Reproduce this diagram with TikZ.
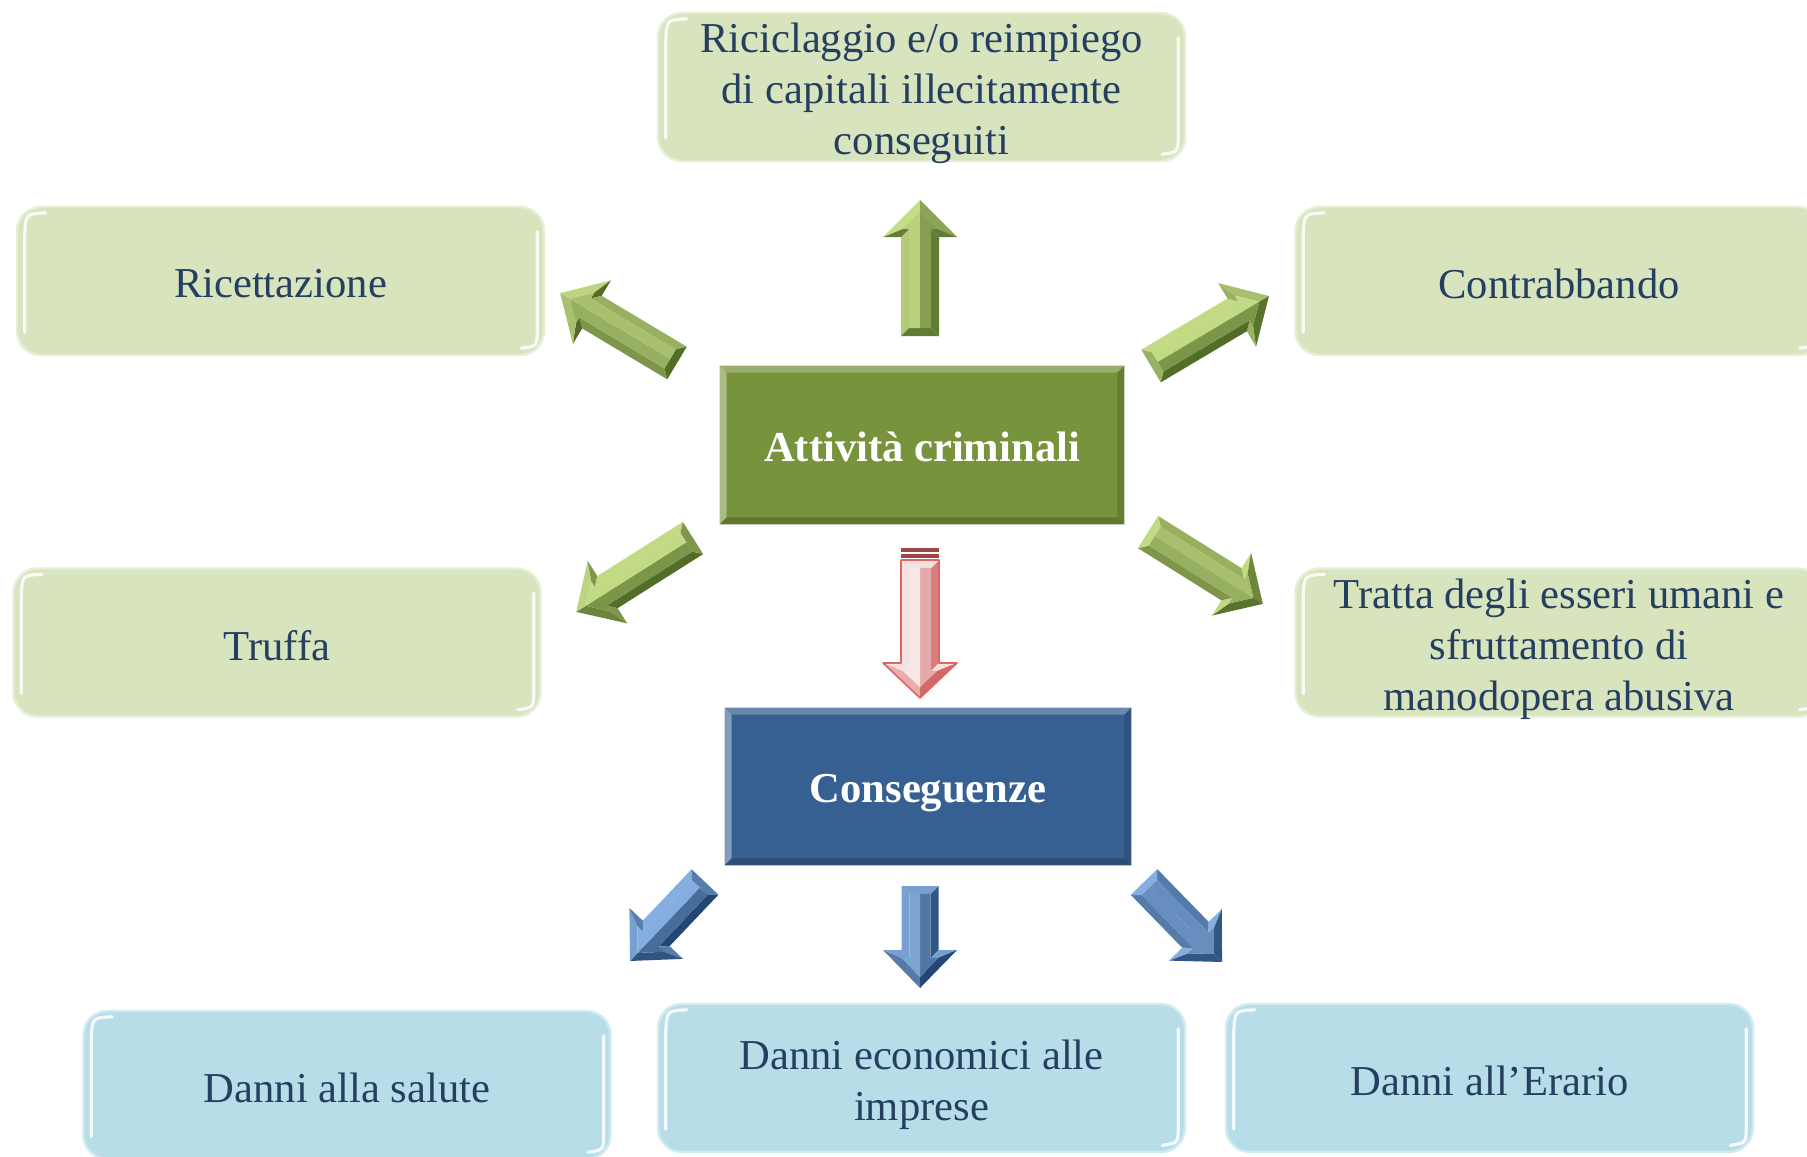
\documentclass[tikz,border=0pt]{standalone}
\usepackage{fontspec}
\setmainfont{Liberation Serif}
\usetikzlibrary{calc}
\definecolor{txt}{HTML}{243F60}
\definecolor{gbox}{HTML}{D7E4BD}
\definecolor{gboxE}{HTML}{E6EFD6}
\definecolor{bbox}{HTML}{B7DEE8}
\definecolor{bboxE}{HTML}{D0EBF2}
\definecolor{actF}{HTML}{77933C}
\definecolor{consF}{HTML}{376092}
\definecolor{gnL}{HTML}{CCE38C}
\definecolor{gnD}{HTML}{4A6520}
\definecolor{blL}{HTML}{8CB6E8}
\definecolor{blD}{HTML}{1E416C}
\definecolor{pkL}{HTML}{FFFFFF}
\definecolor{pkD}{HTML}{D06060}
\definecolor{pkO}{HTML}{E06666}
\definecolor{pkS}{HTML}{A04545}

\tikzset{
 lbox/.style={rectangle, rounded corners=12pt, minimum width=263.5pt, minimum height=74pt,
   text=txt, font=\fontsize{21.3}{25.5}\selectfont, align=center, inner sep=0pt, line width=1.2pt},
 gbx/.style={lbox, fill=gbox, draw=gboxE},
 bbx/.style={lbox, fill=bbox, draw=bboxE},
 cbox/.style={rectangle, text=white, font=\fontsize{21.3}{25.5}\selectfont\bfseries, inner sep=0pt},
 gloss/.style={white, line width=1.6pt, line cap=round, opacity=.85},
 txtone/.style={yshift=-1.5pt},
 txtmulti/.style={yshift=-3.3pt},
}

% glossy highlight of a light box
\newcommand{\gloss}[1]{%
 \draw[gloss] ($(#1.north west)+(30,7)$) .. controls ($(#1.north west)+(10,8)$) .. ($(#1.north west)+(9,28)$) -- ($(#1.south west)+(9,-24)$);
 \draw[gloss] ($(#1.north east)+(-8,26)$) -- ($(#1.south east)+(-8,-28)$) .. controls ($(#1.south east)+(-8,-10)$) .. ($(#1.south east)+(-24,-8)$);
}

% bevelled central box
\newcommand{\bevbox}[2]{%
 \fill[#2!75!white] (#1.north west) -- (#1.north east) -- ($(#1.north east)+(-7,7)$) -- ($(#1.north west)+(7,7)$) -- cycle;
 \fill[#2!62!white] (#1.north west) -- ($(#1.north west)+(7,7)$) -- ($(#1.south west)+(7,-7)$) -- (#1.south west) -- cycle;
 \fill[#2!80!black] (#1.south west) -- ($(#1.south west)+(7,-7)$) -- ($(#1.south east)+(-7,-7)$) -- (#1.south east) -- cycle;
 \fill[#2!86!black] (#1.north east) -- (#1.south east) -- ($(#1.south east)+(-7,-7)$) -- ($(#1.north east)+(-7,7)$) -- cycle;
}

% bevelled block arrow: #1 tail, #2 tip, #3 head length, #4 shaft half width, #5 head half width, #6 scheme, #7 outline
\newcommand{\bevarrow}[7]{%
 \path (#1); \pgfgetlastxy{\bvax}{\bvay}%
 \path (#2); \pgfgetlastxy{\bvbx}{\bvby}%
 \pgfmathsetmacro{\bvrot}{atan2(\bvby-\bvay,\bvbx-\bvax)}%
 \pgfmathsetmacro{\bvL}{veclen(\bvbx-\bvax,\bvby-\bvay)*2}%
 \pgfmathsetmacro{\bvB}{\bvL-#3}%
 \pgfmathsetmacro{\bvd}{0.42*#4}%
 \pgfmathsetmacro{\bvwi}{#4-\bvd}%
 \pgfmathsetmacro{\bvBi}{\bvB+\bvd}%
 \pgfmathsetmacro{\bvlen}{veclen(#5,#3)}%
 \pgfmathsetmacro{\bvPi}{\bvL-\bvd*\bvlen/#5}%
 \pgfmathsetmacro{\bvHi}{(#5*(#3-\bvd)-\bvd*\bvlen)/#3}%
 \pgfmathsetmacro{\bvsl}{atan2(#3,#5)}%
 \pgfmathtruncatemacro{\bvsA}{50+45*cos(90+\bvrot-135)}%
 \pgfmathtruncatemacro{\bvsB}{50+45*cos(180+\bvrot-135)}%
 \pgfmathtruncatemacro{\bvsC}{50+45*cos(\bvsl+\bvrot-135)}%
 \pgfmathtruncatemacro{\bvsD}{50+45*cos(-\bvsl+\bvrot-135)}%
 \pgfmathtruncatemacro{\bvsE}{50+45*cos(270+\bvrot-135)}%
 \pgfmathtruncatemacro{\bvfA}{66+28*cos(90+\bvrot-135)}%
 \pgfmathtruncatemacro{\bvfB}{66+28*cos(270+\bvrot-135)}%
 \begin{scope}[shift={(#1)}, rotate=\bvrot, y=0.5pt]
  \fill[#6L!\bvsA!#6D] (0,#4) -- (\bvB,#4) -- (\bvBi,\bvwi) -- (\bvd,\bvwi) -- cycle;
  \fill[#6L!\bvsB!#6D] (\bvB,#4) -- (\bvB,#5) -- (\bvBi,\bvHi) -- (\bvBi,\bvwi) -- cycle;
  \fill[#6L!\bvsC!#6D] (\bvB,#5) -- (\bvL,0) -- (\bvPi,0) -- (\bvBi,\bvHi) -- cycle;
  \fill[#6L!\bvsD!#6D] (\bvL,0) -- (\bvB,-#5) -- (\bvBi,-\bvHi) -- (\bvPi,0) -- cycle;
  \fill[#6L!\bvsB!#6D] (\bvB,-#5) -- (\bvB,-#4) -- (\bvBi,-\bvwi) -- (\bvBi,-\bvHi) -- cycle;
  \fill[#6L!\bvsE!#6D] (\bvB,-#4) -- (0,-#4) -- (\bvd,-\bvwi) -- (\bvBi,-\bvwi) -- cycle;
  \fill[#6L!\bvsB!#6D] (0,-#4) -- (0,#4) -- (\bvd,\bvwi) -- (\bvd,-\bvwi) -- cycle;
  \fill[#6L!\bvfA!#6D] (\bvd,\bvwi) -- (\bvBi,\bvwi) -- (\bvBi,\bvHi) -- (\bvPi,0) -- (\bvd,0) -- cycle;
  \fill[#6L!\bvfB!#6D] (\bvd,-\bvwi) -- (\bvBi,-\bvwi) -- (\bvBi,-\bvHi) -- (\bvPi,0) -- (\bvd,0) -- cycle;
  \path[draw=#7, line width=0.8pt, line join=round] (0,#4) -- (\bvB,#4) -- (\bvB,#5) -- (\bvL,0) -- (\bvB,-#5) -- (\bvB,-#4) -- (0,-#4) -- cycle;
 \end{scope}
}

\begin{document}
\begin{tikzpicture}[x=0.5pt, y=-0.5pt]
\fill[white] (0,0) rectangle (1807,1156);
\useasboundingbox (0,0) rectangle (1807,1156);

% light boxes
\node[gbx] (rici) at (921.5,87) {};
\node[gbx] (ricet) at (280.5,281) {};
\node[gbx] (contr) at (1559,281) {};
\node[gbx] (truffa) at (277,642.5) {};
\node[gbx] (tratta) at (1559,642.5) {};
\node[bbx] (salute) at (347,1085) {};
\node[bbx] (econ) at (921.5,1078) {};
\node[bbx] (erario) at (1489.5,1078) {};
\foreach \n in {rici,ricet,contr,truffa,tratta,salute,econ,erario}{\gloss{\n}}
\node[lbox, draw=none, txtmulti] (ricit) at (rici) {Riciclaggio e/o reimpiego\\di capitali illecitamente\\conseguiti};
\node[lbox, draw=none, txtone] (ricett) at (ricet) {Ricettazione};
\node[lbox, draw=none, txtone] (contrt) at (contr) {Contrabbando};
\node[lbox, draw=none, txtone] (truffat) at (truffa) {Truffa};
\node[lbox, draw=none, txtmulti] (trattat) at (tratta) {Tratta degli esseri umani e\\sfruttamento di\\manodopera abusiva};
\node[lbox, draw=none, txtone] (salutet) at (salute) {Danni alla salute};
\node[lbox, draw=none, txtmulti] (econt) at (econ) {Danni economici alle\\imprese};
\node[lbox, draw=none, txtone] (erariot) at (erario) {Danni all’Erario};

% central boxes
\node[cbox, fill=actF, minimum width=202pt, minimum height=79pt] (act) at (922,445) {};
\bevbox{act}{actF}
\node[cbox, yshift=-1pt] (actt) at (act) {Attività criminali};
\node[cbox, fill=consF, minimum width=203pt, minimum height=78.5pt] (cons) at (928,786.5) {};
\bevbox{cons}{consF}
\node[cbox, yshift=-3.5pt] (const) at (cons) {Conseguenze};

% arrow end points
\coordinate (a1s) at (920,336);  \coordinate (a1e) at (920,200);
\coordinate (a2s) at (677,363);  \coordinate (a2e) at (560,293);
\coordinate (a3s) at (1151,366); \coordinate (a3e) at (1269,296);
\coordinate (a4s) at (693,538);  \coordinate (a4e) at (576,612);
\coordinate (a5s) at (1148,532); \coordinate (a5e) at (1263,604);
\coordinate (p1s) at (920,560);  \coordinate (p1e) at (920,698);
\coordinate (b1s) at (705,882);  \coordinate (b1e) at (630,961);
\coordinate (b2s) at (920,886);  \coordinate (b2e) at (920,988);
\coordinate (b3s) at (1144,882); \coordinate (b3e) at (1222,962);

\bevarrow{a1s}{a1e}{37}{19}{37}{gn}{none}
\bevarrow{a2s}{a2e}{37}{19}{37}{gn}{none}
\bevarrow{a3s}{a3e}{37}{19}{37}{gn}{none}
\bevarrow{a4s}{a4e}{37}{19}{37}{gn}{none}
\bevarrow{a5s}{a5e}{37}{19}{37}{gn}{none}
\bevarrow{p1s}{p1e}{35}{19}{37}{pk}{pkO}
\fill[pkS] (901,548) rectangle (939,552);
\fill[pkS] (901,554) rectangle (939,558);
\bevarrow{b1s}{b1e}{38}{18.5}{37}{bl}{none}
\bevarrow{b2s}{b2e}{38}{18.5}{37}{bl}{none}
\bevarrow{b3s}{b3e}{38}{18.5}{37}{bl}{none}
\end{tikzpicture}
\end{document}
